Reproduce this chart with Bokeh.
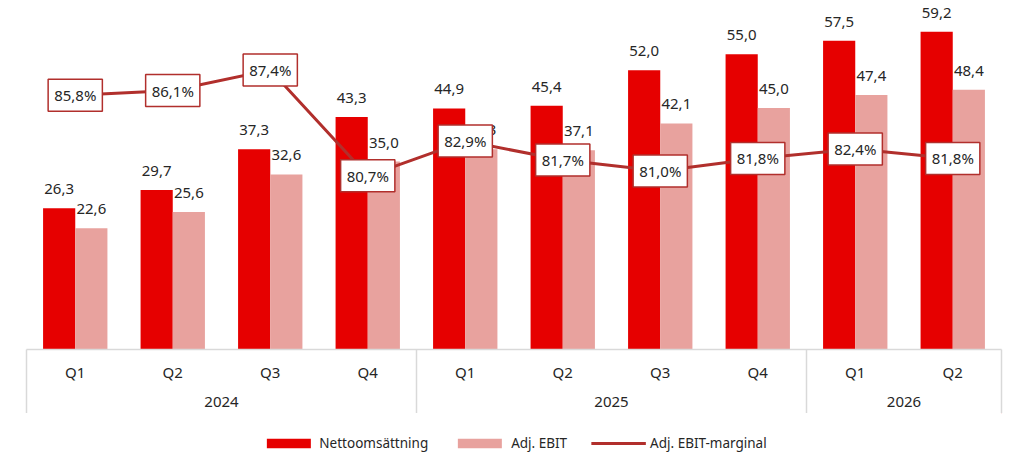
from bokeh.plotting import figure
from bokeh.models import FactorRange, Range1d, ColumnDataSource, Legend, LegendItem
from bokeh.layouts import column
from bokeh.transform import dodge
from bokeh.core.properties import value
from bokeh.embed import file_html
from bokeh.resources import INLINE

years = ["2024", "2024", "2024", "2024", "2025", "2025", "2025", "2025", "2026", "2026"]
quarters = ["Q1", "Q2", "Q3", "Q4", "Q1", "Q2", "Q3", "Q4", "Q1", "Q2"]
nettoomsattning = [26.3, 29.7, 37.3, 43.3, 44.9, 45.4, 52.0, 55.0, 57.5, 59.2]
adj_ebit = [22.6, 25.6, 32.6, 35.0, 37.3, 37.1, 42.1, 45.0, 47.4, 48.4]
adj_ebit_marginal = [85.8, 86.1, 87.4, 80.7, 82.9, 81.7, 81.0, 81.8, 82.4, 81.8]
series_names = ["Nettoomsättning", "Adj. EBIT", "Adj. EBIT-marginal"]

FONT = "Noto Sans"
RED = "#E60000"
PINK = "#E8A29E"
LINE = "#B12F2C"
TXT = "#262626"

def fmt(v, suffix=""):
    return f"{v:.1f}".replace(".", ",") + suffix

factors = list(zip(years, quarters))
src = ColumnDataSource(dict(
    x=factors,
    netto=nettoomsattning,
    ebit=adj_ebit,
    marg=adj_ebit_marginal,
    netto_lbl=[fmt(v) for v in nettoomsattning],
    ebit_lbl=[fmt(v) for v in adj_ebit],
    marg_lbl=[fmt(v, "%") for v in adj_ebit_marginal],
))

xr = FactorRange(factors=factors, factor_padding=0, group_padding=0, range_padding=0)
p = figure(width=1024, height=413, x_range=xr, y_range=Range1d(0, 65),
           y_axis_location=None, toolbar_location=None, output_backend="svg",
           min_border=0, min_border_left=26, min_border_right=23,
           min_border_top=0, min_border_bottom=64,
           outline_line_color=None, background_fill_color="white")
p.extra_y_ranges = {"pct": Range1d(69.7, 91.8)}
p.xgrid.visible = False
p.ygrid.visible = False

p.vbar(x=dodge("x", -0.165, range=xr), top="netto", width=0.33, source=src,
       fill_color=RED, line_color=None)
p.vbar(x=dodge("x", 0.165, range=xr), top="ebit", width=0.33, source=src,
       fill_color=PINK, line_color=None)

p.text(x=dodge("x", -0.165, range=xr), y="netto", text="netto_lbl", source=src,
       text_align="center", text_baseline="bottom", y_offset=-14,
       text_font=value(FONT), text_font_size="15px", text_color=TXT)
p.text(x=dodge("x", 0.165, range=xr), y="ebit", text="ebit_lbl", source=src,
       text_align="center", text_baseline="bottom", y_offset=-14,
       text_font=value(FONT), text_font_size="15px", text_color=TXT)

p.line(x="x", y="marg", source=src, y_range_name="pct", line_color=LINE, line_width=3)
p.text(x="x", y="marg", text="marg_lbl", source=src, y_range_name="pct",
       text_align="center", text_baseline="middle",
       text_font=value(FONT), text_font_size="15px", text_color=TXT,
       background_fill_color="white", border_line_color=LINE, border_line_width=1.5,
       padding=6)

# group separators below the axis
bounds = [0, 4, 8, 10]
p.segment(x0=bounds, y0=[0] * 4, x1=bounds, y1=[-11.9] * 4,
          line_color="#D9D9D9", line_width=1.5, level="annotation")

ax = p.xaxis[0]
ax.axis_line_color = "#D9D9D9"
ax.axis_line_width = 1.5
ax.major_tick_line_color = None
ax.minor_tick_line_color = None
ax.major_tick_out = 0
ax.major_label_standoff = 12
ax.major_label_text_font = FONT
ax.major_label_text_font_size = "15px"
ax.major_label_text_color = TXT
ax.group_text_font = FONT
ax.group_text_font_size = "15px"
ax.group_text_font_style = "normal"
ax.group_text_color = TXT
ax.separator_line_color = None

# legend strip below the chart (proxy glyphs kept outside the visible range)
lg = figure(width=1024, height=60, x_range=Range1d(0, 1), y_range=Range1d(0, 1),
            x_axis_location=None, y_axis_location=None, toolbar_location=None,
            output_backend="svg", min_border=0, min_border_left=26, min_border_right=23,
            outline_line_color=None)
lg.xgrid.visible = False
lg.ygrid.visible = False
g1 = lg.vbar(x=[5], top=[6], bottom=[5], width=0.1, fill_color=RED, line_color=None)
g2 = lg.vbar(x=[5], top=[6], bottom=[5], width=0.1, fill_color=PINK, line_color=None)
g3 = lg.line(x=[5, 6], y=[5, 5], line_color=LINE, line_width=3)
legend = Legend(items=[
    LegendItem(label=series_names[0], renderers=[g1]),
    LegendItem(label=series_names[1], renderers=[g2]),
    LegendItem(label=series_names[2], renderers=[g3]),
], orientation="horizontal", location="center", border_line_color=None,
   background_fill_alpha=0, label_text_font=FONT, label_text_font_size="13.5px",
   label_text_color=TXT, glyph_width=55, glyph_height=12, spacing=24,
   label_standoff=4, margin=0, padding=0)
lg.add_layout(legend, "center")

layout = column(p, lg, spacing=0)
open("out.html", "w").write(file_html(layout, INLINE))
